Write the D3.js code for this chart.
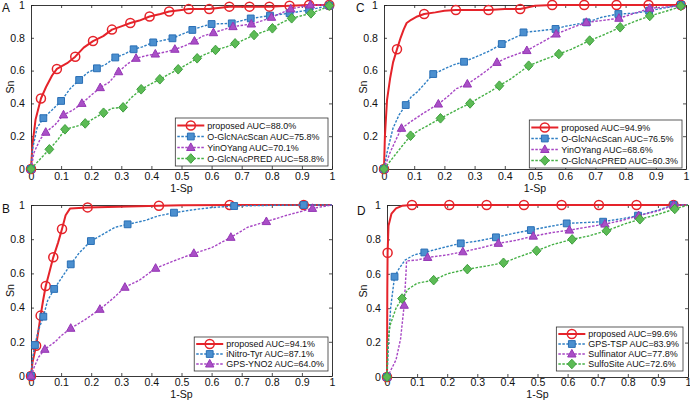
<!DOCTYPE html>
<html><head><meta charset="utf-8">
<script src="https://cdn.jsdelivr.net/npm/d3@7/dist/d3.min.js"></script>
<style>body{margin:0;background:#fff}text{font-family:"Liberation Sans",Arial,sans-serif}</style>
</head><body><svg id="c" width="690" height="400"></svg>
<script>
// ---------- tick values / labels ----------
const xTicks = [0,0.1,0.2,0.3,0.4,0.5,0.6,0.7,0.8,0.9,1];
const xTickLabels = ["0","0.1","0.2","0.3","0.4","0.5","0.6","0.7","0.8","0.9","1"];
const yTicks = [0,0.2,0.4,0.6,0.8,1];
const yTickLabels = ["0","0.2","0.4","0.6","0.8","1"];
const xAxisLabel = "1-Sp";
const yAxisLabel = "Sn";
const panelLetters = ["A","B","C","D"];

// ---------- legends ----------
const legendA = ["proposed AUC=88.0%","O-GlcNAcScan AUC=75.8%","YinOYang AUC=70.1%","O-GlcNAcPRED AUC=58.8%"];
const legendB = ["proposed AUC=94.1%","iNitro-Tyr AUC=87.1%","GPS-YNO2 AUC=64.0%"];
const legendC = ["proposed AUC=94.9%","O-GlcNAcScan AUC=76.5%","YinOYang AUC=68.6%","O-GlcNAcPRED AUC=60.3%"];
const legendD = ["proposed AUC=99.6%","GPS-TSP AUC=83.9%","Sulfinator AUC=77.8%","SulfoSite AUC=72.6%"];

// ---------- Panel A ----------
const A_red = [[0,0],[0.005,0.15],[0.015,0.3],[0.033,0.43],[0.05,0.5],[0.07,0.57],[0.086,0.61],[0.12,0.645],[0.147,0.685],[0.175,0.74],[0.206,0.78],[0.24,0.81],[0.269,0.85],[0.3,0.87],[0.33,0.89],[0.36,0.905],[0.394,0.93],[0.43,0.945],[0.459,0.96],[0.5,0.97],[0.524,0.975],[0.592,0.975],[0.659,0.99],[0.792,0.99],[0.859,0.995],[0.924,1],[1,1]];
const A_redMarks = [[0,0],[0.033,0.43],[0.086,0.61],[0.147,0.685],[0.206,0.78],[0.269,0.85],[0.33,0.89],[0.394,0.93],[0.459,0.96],[0.524,0.975],[0.592,0.975],[0.659,0.99],[0.726,0.99],[0.792,0.99],[0.859,0.995],[0.924,1],[0.991,1]];
const A_blue = [[0,0],[0.005,0.12],[0.02,0.25],[0.041,0.31],[0.07,0.36],[0.1,0.415],[0.13,0.49],[0.16,0.543],[0.19,0.59],[0.219,0.614],[0.25,0.64],[0.28,0.68],[0.31,0.7],[0.341,0.73],[0.37,0.745],[0.406,0.772],[0.44,0.785],[0.47,0.797],[0.5,0.82],[0.536,0.848],[0.57,0.87],[0.6,0.884],[0.667,0.888],[0.7,0.905],[0.73,0.918],[0.794,0.935],[0.859,0.95],[0.924,0.97],[0.991,0.996],[1,1]];
const A_blueMarks = [[0,0],[0.041,0.31],[0.1,0.415],[0.16,0.543],[0.219,0.614],[0.28,0.68],[0.341,0.73],[0.406,0.772],[0.47,0.797],[0.536,0.848],[0.6,0.884],[0.667,0.888],[0.73,0.918],[0.794,0.935],[0.859,0.95],[0.924,0.97],[0.991,0.996]];
const A_purple = [[0,0],[0.01,0.1],[0.03,0.18],[0.049,0.224],[0.08,0.27],[0.108,0.33],[0.14,0.36],[0.169,0.4],[0.2,0.45],[0.23,0.496],[0.26,0.53],[0.291,0.593],[0.32,0.64],[0.349,0.675],[0.38,0.69],[0.413,0.701],[0.45,0.715],[0.478,0.73],[0.51,0.75],[0.543,0.78],[0.57,0.81],[0.606,0.831],[0.64,0.85],[0.671,0.868],[0.732,0.884],[0.77,0.905],[0.799,0.925],[0.83,0.95],[0.863,0.976],[0.928,1],[1,1]];
const A_purpleMarks = [[0,0],[0.049,0.224],[0.108,0.33],[0.169,0.4],[0.23,0.496],[0.291,0.593],[0.349,0.675],[0.413,0.701],[0.478,0.73],[0.543,0.78],[0.606,0.831],[0.671,0.868],[0.732,0.884],[0.799,0.925],[0.863,0.976],[0.928,1],[0.991,1]];
const A_green = [[0,0],[0.03,0.06],[0.061,0.12],[0.09,0.18],[0.113,0.242],[0.15,0.26],[0.18,0.278],[0.21,0.31],[0.241,0.343],[0.27,0.37],[0.306,0.376],[0.33,0.43],[0.366,0.486],[0.4,0.52],[0.428,0.547],[0.46,0.58],[0.489,0.608],[0.52,0.64],[0.552,0.675],[0.58,0.7],[0.613,0.726],[0.65,0.745],[0.678,0.766],[0.71,0.79],[0.741,0.817],[0.77,0.835],[0.802,0.858],[0.83,0.89],[0.866,0.919],[0.93,0.949],[0.96,0.97],[1,1]];
const A_greenMarks = [[0,0],[0.061,0.12],[0.113,0.242],[0.18,0.278],[0.241,0.343],[0.306,0.376],[0.366,0.486],[0.428,0.547],[0.489,0.608],[0.552,0.675],[0.613,0.726],[0.678,0.766],[0.741,0.817],[0.802,0.858],[0.866,0.919],[0.93,0.949],[0.991,0.996]];

// ---------- Panel B ----------
const B_red = [[0,0],[0.005,0.08],[0.017,0.177],[0.025,0.27],[0.032,0.353],[0.04,0.44],[0.049,0.526],[0.06,0.6],[0.074,0.694],[0.09,0.78],[0.103,0.86],[0.115,0.94],[0.13,0.98],[0.188,0.986],[0.425,0.996],[0.5,0.998],[0.66,1],[1,1]];
const B_redMarks = [[0,0],[0.017,0.177],[0.032,0.353],[0.049,0.526],[0.074,0.694],[0.103,0.86],[0.188,0.986],[0.425,0.996],[0.66,1],[0.906,1]];
const B_blue = [[0,0],[0.005,0.1],[0.013,0.181],[0.025,0.27],[0.041,0.347],[0.055,0.44],[0.077,0.509],[0.1,0.57],[0.132,0.653],[0.16,0.72],[0.199,0.789],[0.24,0.83],[0.28,0.87],[0.321,0.887],[0.38,0.91],[0.42,0.935],[0.475,0.955],[0.55,0.975],[0.6,0.985],[0.675,0.994],[0.8,0.998],[0.906,1],[1,1]];
const B_blueMarks = [[0,0],[0.013,0.181],[0.041,0.347],[0.077,0.509],[0.132,0.653],[0.199,0.789],[0.321,0.887],[0.475,0.955],[0.675,0.994],[0.906,1]];
const B_purple = [[0,0],[0.01,0.05],[0.025,0.11],[0.046,0.156],[0.08,0.2],[0.1,0.235],[0.132,0.279],[0.18,0.33],[0.229,0.39],[0.27,0.45],[0.312,0.519],[0.36,0.56],[0.414,0.63],[0.47,0.67],[0.541,0.717],[0.6,0.75],[0.664,0.811],[0.72,0.87],[0.782,0.903],[0.85,0.94],[0.935,0.98],[1,1]];
const B_purpleMarks = [[0,0],[0.046,0.156],[0.132,0.279],[0.229,0.39],[0.312,0.519],[0.414,0.63],[0.541,0.717],[0.664,0.811],[0.782,0.903],[0.935,0.98]];

// ---------- Panel C ----------
const C_red = [[0,0],[0.003,0.2],[0.01,0.42],[0.02,0.55],[0.03,0.65],[0.043,0.73],[0.055,0.8],[0.065,0.85],[0.075,0.89],[0.09,0.91],[0.11,0.93],[0.133,0.945],[0.17,0.955],[0.2,0.965],[0.238,0.97],[0.346,0.97],[0.4,0.975],[0.451,0.976],[0.5,0.995],[0.557,1],[1,1]];
const C_redMarks = [[0,0],[0.043,0.73],[0.133,0.945],[0.238,0.97],[0.346,0.97],[0.451,0.976],[0.557,1],[0.663,1],[0.77,1],[0.876,1],[0.983,1]];
const C_blue = [[0,0],[0.01,0.1],[0.03,0.25],[0.05,0.33],[0.072,0.39],[0.09,0.44],[0.11,0.47],[0.13,0.51],[0.163,0.579],[0.2,0.61],[0.23,0.635],[0.265,0.654],[0.3,0.68],[0.35,0.72],[0.39,0.762],[0.42,0.79],[0.45,0.815],[0.462,0.833],[0.5,0.84],[0.568,0.854],[0.6,0.87],[0.671,0.894],[0.72,0.925],[0.776,0.945],[0.83,0.95],[0.878,0.965],[0.983,1],[1,1]];
const C_blueMarks = [[0,0],[0.072,0.39],[0.163,0.579],[0.265,0.654],[0.39,0.762],[0.462,0.833],[0.568,0.854],[0.671,0.894],[0.776,0.945],[0.878,0.965],[0.983,1]];
const C_purple = [[0,0],[0.02,0.1],[0.04,0.18],[0.058,0.248],[0.09,0.29],[0.13,0.34],[0.18,0.396],[0.21,0.44],[0.24,0.49],[0.276,0.518],[0.31,0.56],[0.34,0.6],[0.374,0.65],[0.41,0.68],[0.44,0.7],[0.473,0.722],[0.5,0.75],[0.54,0.79],[0.57,0.823],[0.62,0.86],[0.67,0.894],[0.72,0.905],[0.778,0.919],[0.83,0.95],[0.88,0.98],[0.95,0.99],[1,1]];
const C_purpleMarks = [[0,0],[0.058,0.248],[0.18,0.396],[0.276,0.518],[0.374,0.65],[0.473,0.722],[0.57,0.823],[0.67,0.894],[0.778,0.919],[0.88,0.98],[0.983,1]];
const C_green = [[0,0],[0.03,0.07],[0.06,0.14],[0.088,0.203],[0.12,0.24],[0.15,0.27],[0.187,0.309],[0.22,0.34],[0.25,0.37],[0.285,0.4],[0.32,0.44],[0.35,0.47],[0.382,0.508],[0.42,0.55],[0.45,0.59],[0.479,0.63],[0.52,0.66],[0.579,0.701],[0.62,0.73],[0.681,0.783],[0.73,0.82],[0.782,0.864],[0.83,0.9],[0.88,0.933],[0.93,0.96],[1,1]];
const C_greenMarks = [[0,0],[0.088,0.203],[0.187,0.309],[0.285,0.4],[0.382,0.508],[0.479,0.63],[0.579,0.701],[0.681,0.783],[0.782,0.864],[0.88,0.933],[0.983,0.994]];

// ---------- Panel D ----------
const D_red = [[0,0],[0.001,0.5],[0.002,0.722],[0.005,0.88],[0.015,0.95],[0.03,0.98],[0.05,0.995],[0.083,1],[1,1]];
const D_redMarks = [[0,0],[0.002,0.722],[0.083,1],[0.207,1],[0.331,1],[0.455,1],[0.58,1],[0.704,1],[0.829,1],[0.952,1]];
const D_blue = [[0,0],[0.005,0.2],[0.012,0.4],[0.025,0.583],[0.04,0.63],[0.06,0.68],[0.09,0.71],[0.124,0.724],[0.18,0.75],[0.245,0.777],[0.3,0.79],[0.362,0.812],[0.42,0.835],[0.478,0.854],[0.54,0.875],[0.597,0.893],[0.718,0.903],[0.78,0.92],[0.834,0.938],[0.9,0.97],[0.952,1],[1,1]];
const D_blueMarks = [[0,0],[0.025,0.583],[0.124,0.724],[0.245,0.777],[0.362,0.812],[0.478,0.854],[0.597,0.893],[0.718,0.903],[0.834,0.938],[0.952,1]];
const D_purple = [[0,0],[0.01,0.03],[0.03,0.1],[0.045,0.22],[0.057,0.417],[0.063,0.6],[0.065,0.675],[0.1,0.68],[0.135,0.695],[0.2,0.71],[0.252,0.728],[0.31,0.75],[0.37,0.777],[0.43,0.795],[0.486,0.819],[0.55,0.84],[0.606,0.854],[0.66,0.87],[0.724,0.889],[0.78,0.91],[0.836,0.938],[0.9,0.965],[0.952,1],[1,1]];
const D_purpleMarks = [[0,0],[0.057,0.417],[0.135,0.695],[0.252,0.728],[0.37,0.777],[0.486,0.819],[0.606,0.854],[0.724,0.889],[0.836,0.938],[0.952,1]];
const D_green = [[0,0],[0.003,0.2],[0.01,0.3],[0.03,0.4],[0.05,0.456],[0.07,0.51],[0.1,0.545],[0.155,0.563],[0.2,0.6],[0.267,0.627],[0.33,0.645],[0.387,0.664],[0.44,0.7],[0.497,0.734],[0.55,0.77],[0.615,0.8],[0.67,0.82],[0.729,0.85],[0.79,0.89],[0.84,0.917],[0.9,0.945],[0.956,0.977],[1,1]];
const D_greenMarks = [[0,0],[0.05,0.456],[0.155,0.563],[0.267,0.627],[0.387,0.664],[0.497,0.734],[0.615,0.8],[0.729,0.85],[0.84,0.917],[0.956,0.977]];

// ---------- styles ----------
const styles = {
  red:    {stroke:"#e5232a", width:2,   dash:null,  marker:"circle",   fill:"none",    mstroke:"#e5232a"},
  blue:   {stroke:"#2f7fc4", width:1.4, dash:"2.5,1.5", marker:"square",  fill:"#4b8fcf", mstroke:"#2a6fb5"},
  purple: {stroke:"#a746c4", width:1.4, dash:"2.5,1.5", marker:"triangle",fill:"#a94fc6", mstroke:"#9536b5"},
  green:  {stroke:"#45b045", width:1.4, dash:"2.5,1.5", marker:"diamond", fill:"#5cbb55", mstroke:"#3f9f3f"}
};
function markerPath(type){
  if(type==="circle") return d3.symbol(d3.symbolCircle, 64)();
  if(type==="square") return "M-3.4,-3.4H3.4V3.4H-3.4Z";
  if(type==="triangle") return "M0,-4.6L4.2,3L-4.2,3Z";
  if(type==="diamond") return "M0,-4.8L4.4,0L0,4.8L-4.4,0Z";
}

const svg = d3.select("#c");
const FAM = "'Liberation Sans',Arial,Helvetica,sans-serif";
// calibrate font sizes against the reference text widths
const probe = svg.append("text").style("font-family",FAM).style("font-size","10px").text("proposed AUC=88.0%");
const probeW = probe.node().getComputedTextLength();
probe.remove();
const LFS = Math.max(7.5, Math.min(10, 10 * 89 / probeW));   // legend font
const TFS = LFS * 10.5 / 8.9;                                 // tick / axis font

const panels = [
  {letter:panelLetters[0], box:[31,5,332,169], letterPos:[2,12], ylabX:10, xlabDy:22.5, xpad:3,
   series:[["red",A_red,A_redMarks],["blue",A_blue,A_blueMarks],["purple",A_purple,A_purpleMarks],["green",A_green,A_greenMarks]],
   legend:legendA, lbox:[328,118,48]},
  {letter:panelLetters[1], box:[31,205,332,376], letterPos:[2,213], ylabX:10, xlabDy:21.5, xpad:2,
   series:[["red",B_red,B_redMarks],["blue",B_blue,B_blueMarks],["purple",B_purple,B_purpleMarks]],
   legend:legendB, lbox:[328,337,34]},
  {letter:panelLetters[2], box:[384,5,686,169], letterPos:[356,12], ylabX:363, xlabDy:22.5, xpad:3,
   series:[["red",C_red,C_redMarks],["blue",C_blue,C_blueMarks],["purple",C_purple,C_purpleMarks],["green",C_green,C_greenMarks]],
   legend:legendC, lbox:[682,120,48]},
  {letter:panelLetters[3], box:[387,205,688,377], letterPos:[357,215], ylabX:363, xlabDy:21, xpad:1.5,
   series:[["red",D_red,D_redMarks],["blue",D_blue,D_blueMarks],["purple",D_purple,D_purpleMarks],["green",D_green,D_greenMarks]],
   legend:legendD, lbox:[683,327,44]}
];

panels.forEach(p=>{
  const [x0,y0,x1,y1] = p.box;
  const x = d3.scaleLinear().domain([0,1]).range([x0,x1]);
  const y = d3.scaleLinear().domain([0,1]).range([y1,y0]);
  const g = svg.append("g");
  const fs = TFS + "px";
  const ax = (gen, tr, ticks, labels, show, pad) => {
    const a = g.append("g").attr("transform",tr)
      .call(gen.tickValues(ticks).tickSizeInner(-3).tickSizeOuter(0).tickPadding(show?pad:0)
        .tickFormat((d,i)=> show? labels[i] : ""));
    a.selectAll("path.domain").attr("stroke","#222").attr("stroke-width",0.9);
    a.selectAll(".tick line").attr("stroke","#222").attr("stroke-width",0.8);
    a.selectAll("text").attr("fill","#111").style("font-size",fs).style("font-family",FAM);
    return a;
  };
  ax(d3.axisBottom(x), `translate(0,${y1})`, xTicks, xTickLabels, true, p.xpad);
  ax(d3.axisTop(x), `translate(0,${y0})`, xTicks, xTickLabels, false, 0);
  ax(d3.axisLeft(y), `translate(${x0},0)`, yTicks, yTickLabels, true, 6);
  ax(d3.axisRight(y), `translate(${x1},0)`, yTicks, yTickLabels, false, 0);

  g.append("text").attr("x",(x0+x1)/2).attr("y",y1+p.xlabDy).attr("text-anchor","middle")
    .style("font-size",fs).style("font-family",FAM).attr("fill","#111").text(xAxisLabel);
  g.append("text").attr("transform",`translate(${p.ylabX+4},${(y0+y1)/2}) rotate(-90)`).attr("text-anchor","middle")
    .style("font-size",fs).style("font-family",FAM).attr("fill","#111").text(yAxisLabel);
  g.append("text").attr("x",p.letterPos[0]).attr("y",p.letterPos[1]).style("font-size",(TFS*1.12)+"px")
    .style("font-family",FAM).attr("fill","#111").text(p.letter);

  const line = d3.line().x(d=>x(d[0])).y(d=>y(d[1]));
  p.series.forEach(([key,pts,marks])=>{
    const s = styles[key];
    g.append("path").datum(pts).attr("d",line).attr("fill","none")
      .attr("stroke",s.stroke).attr("stroke-width",s.width)
      .attr("stroke-dasharray",s.dash).attr("stroke-linejoin","round");
    g.selectAll(null).data(marks).enter().append("path")
      .attr("d",markerPath(s.marker))
      .attr("transform",d=>`translate(${x(d[0])},${y(d[1])})`)
      .attr("fill",s.fill).attr("stroke",s.mstroke).attr("stroke-width",s.marker==="circle"?1.5:1);
  });

  // legend (anchored at its right edge)
  const [rx,ly,lh] = p.lbox;
  const lg = g.append("g");
  const rect = lg.append("rect");
  const widths = [];
  const n = p.legend.length;
  const step = (lh - 4) / n;
  p.legend.forEach((t,i)=>{
    const s = styles[p.series[i][0]];
    const cy = ly + 2 + step*(i+0.5);
    const row = lg.append("g");
    row.append("line").attr("x1",2).attr("x2",29).attr("y1",cy).attr("y2",cy)
      .attr("stroke",s.stroke).attr("stroke-width",s.width).attr("stroke-dasharray",s.dash);
    row.append("path").attr("d",markerPath(s.marker)).attr("transform",`translate(15.5,${cy})`)
      .attr("fill",s.fill).attr("stroke",s.mstroke).attr("stroke-width",s.marker==="circle"?1.5:1);
    const tx = row.append("text").attr("x",32).attr("y",cy).attr("dy","0.36em")
      .style("font-size",LFS+"px").style("font-family",FAM).attr("fill","#111").text(t);
    widths.push(tx.node().getComputedTextLength());
  });
  const lw = 32 + d3.max(widths) + 4;
  const lx = rx - lw;
  lg.selectAll("g").attr("transform",`translate(${lx},0)`);
  rect.attr("x",lx).attr("y",ly).attr("width",lw).attr("height",lh)
    .attr("fill","#fff").attr("stroke","#333").attr("stroke-width",0.8);
});
</script></body></html>
